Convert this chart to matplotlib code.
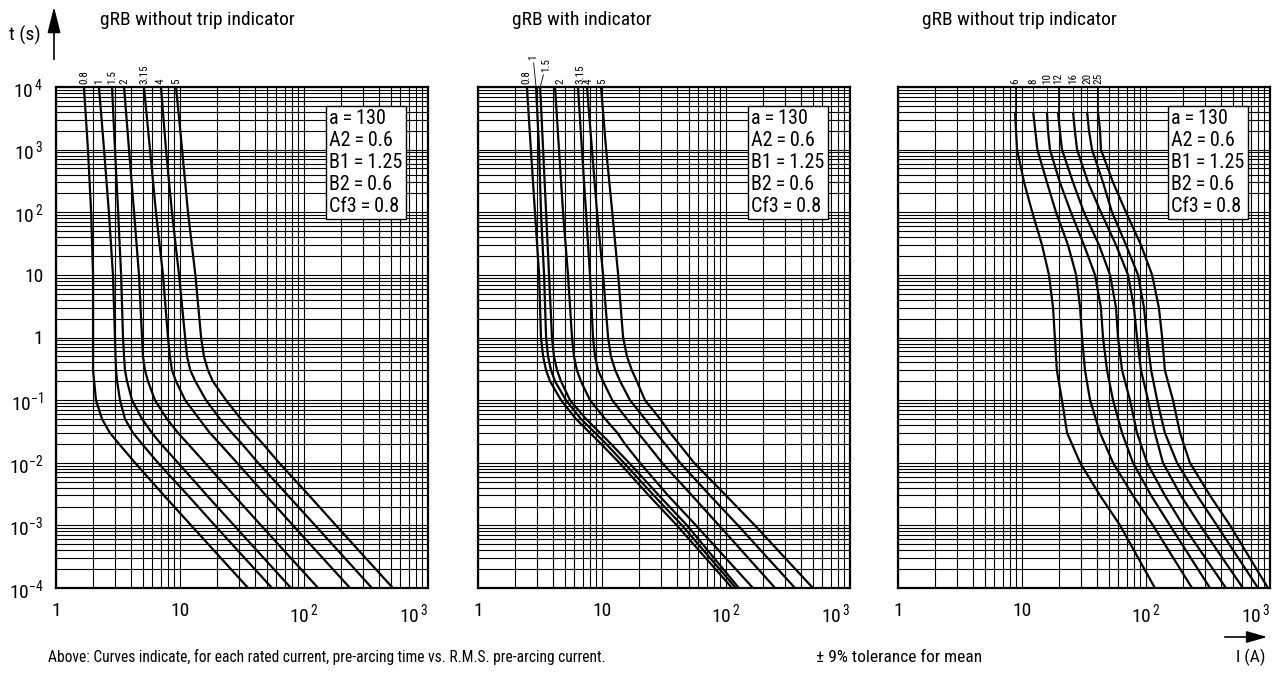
"""
gRB fuse time-current curves, three panels on log-log paper.
"""

import numpy as np
import matplotlib
matplotlib.use("Agg")
import matplotlib.pyplot as plt
from matplotlib import font_manager
from matplotlib.ticker import FixedLocator, LogLocator, NullFormatter


def pick_font():
    names = {f.name for f in font_manager.fontManager.ttflist}
    for n in ["Liberation Sans Narrow", "Roboto Condensed", "Roboto", "Liberation Sans"]:
        if n in names:
            return n
    return "DejaVu Sans"


FONT = pick_font()
plt.rcParams["font.family"] = [FONT, "DejaVu Sans"]
plt.rcParams["mathtext.fontset"] = "custom"
plt.rcParams["mathtext.rm"] = FONT

# ---- data ----
# pre-arcing time levels (s) at which currents were read
t_levels = [1e4, 1e3, 1e2, 10, 1, 0.5, 0.3, 0.2, 0.1, 0.05, 0.03, 0.02, 0.01, 3e-3, 1e-3, 1e-4]
t_levels_right = [4000, 2000, 1e3, 300, 1e2, 30, 10, 3, 1, 0.3, 0.1, 0.03, 0.01, 3e-3, 1e-3, 1e-4]

ratings_small = ["0.8", "1", "1.5", "2", "3.15", "4", "5"]
ratings_large = ["6", "8", "10", "12", "16", "20", "25"]

# currents (A) for each rating, panel 1: without trip indicator
currents_left = [
    [1.68, 1.81, 1.92, 1.99, 1.99, 1.99, 1.99, 2.03, 2.10, 2.35, 2.72, 3.22, 4.34, 7.43, 12.3, 35.4],
    [2.22, 2.44, 2.67, 2.88, 2.99, 3.02, 3.05, 3.11, 3.28, 3.60, 4.18, 4.94, 6.64, 11.6, 19.1, 55.2],
    [2.83, 2.99, 3.17, 3.35, 3.47, 3.54, 3.60, 3.74, 4.10, 4.94, 5.94, 7.02, 9.64, 16.5, 27.3, 78.5],
    [3.54, 3.88, 4.26, 4.67, 4.94, 5.03, 5.22, 5.52, 6.28, 7.85, 9.64, 11.6, 15.9, 27.3, 45.0, 130],
    [5.12, 5.73, 6.40, 7.29, 8.00, 8.30, 8.61, 9.29, 11.0, 14.3, 17.4, 21.0, 28.8, 49.4, 81.5, 235],
    [7.02, 7.71, 8.61, 9.82, 11.0, 11.4, 12.1, 13.3, 16.2, 21.0, 26.2, 31.6, 42.6, 74.3, 123, 353],
    [9.29, 10.4, 11.6, 13.3, 14.8, 15.6, 16.8, 18.4, 23.5, 31.0, 38.8, 46.7, 62.9, 110, 181, 521],
]

# panel 2: with indicator
currents_mid = [
    [2.48, 2.67, 2.88, 3.11, 3.22, 3.35, 3.54, 3.81, 4.67, 6.17, 8.00, 9.82, 13.8, 23.9, 40.2, 112],
    [2.94, 3.11, 3.22, 3.41, 3.54, 3.67, 3.88, 4.18, 5.12, 6.76, 8.79, 10.8, 15.0, 26.2, 44.2, 120],
    [3.17, 3.35, 3.54, 3.74, 3.95, 4.10, 4.34, 4.67, 5.52, 7.43, 9.64, 11.8, 16.5, 28.8, 48.5, 127],
    [4.18, 4.50, 4.85, 5.32, 5.73, 5.94, 6.28, 6.76, 8.00, 10.6, 13.3, 15.3, 20.2, 34.1, 57.3, 165],
    [6.40, 6.89, 7.43, 8.00, 8.46, 8.79, 9.29, 10.2, 12.1, 15.9, 19.5, 23.1, 30.5, 53.2, 87.8, 249],
    [7.57, 8.30, 9.12, 10.2, 11.2, 11.8, 12.8, 14.0, 16.8, 22.2, 27.3, 32.2, 42.6, 74.3, 125, 360],
    [9.82, 10.8, 12.1, 13.5, 14.8, 15.9, 17.4, 19.1, 22.2, 29.4, 35.4, 41.8, 55.2, 100, 171, 502],
]

# panel 3: without trip indicator, larger ratings
currents_right = [
    [8.79, 8.95, 9.12, 10.4, 12.1, 14.5, 16.5, 17.8, 18.4, 19.1, 21.0, 23.1, 29.4, 42.6, 61.8, 118],
    [12.3, 12.8, 13.3, 15.9, 18.8, 23.5, 27.3, 29.4, 30.5, 32.2, 35.4, 42.6, 54.2, 78.5, 114, 235],
    [15.9, 16.2, 16.8, 20.2, 24.8, 31.6, 38.8, 43.3, 45.0, 48.5, 54.2, 64.1, 78.5, 110, 156, 328],
    [19.5, 20.2, 21.0, 25.8, 31.6, 41.8, 51.3, 57.3, 59.5, 64.1, 74.3, 84.6, 102, 142, 199, 441],
    [25.8, 26.7, 27.8, 34.1, 43.3, 57.3, 71.6, 80.0, 84.6, 91.1, 104, 118, 137, 191, 273, 605],
    [33.5, 34.7, 36.7, 45.0, 53.2, 69.0, 86.2, 96.3, 102, 110, 123, 142, 178, 258, 373, 800],
    [41.0, 42.6, 43.3, 54.2, 69.0, 91.1, 112, 127, 135, 142, 165, 188, 226, 328, 476, 963],
]

titles = ["gRB without trip indicator", "gRB with indicator", "gRB without trip indicator"]
param_lines = ["a\u2009=\u2009130", "A2\u2009=\u20090.6", "B1\u2009=\u20091.25",
               "B2\u2009=\u20090.6", "Cf3\u2009=\u20090.8"]

x_ticks = [1, 10, 100, 1000]
x_ticklabels = ["1", "10", r"$\mathregular{10^{\,2}}$", r"$\mathregular{10^{\,3}}$"]
y_ticks = [1e-4, 1e-3, 1e-2, 1e-1, 1, 10, 100, 1e3, 1e4]
y_ticklabels = [r"$\mathregular{10^{-4}}$", r"$\mathregular{10^{-3}}$", r"$\mathregular{10^{-2}}$",
                r"$\mathregular{10^{-1}}$", "1", "10", r"$\mathregular{10^{\,2}}$",
                r"$\mathregular{10^{\,3}}$", r"$\mathregular{10^{\,4}}$"]

# ---- figure ----
W, H = 1272, 675
fig = plt.figure(figsize=(W / 100, H / 100), dpi=100)


def fx(px):
    return px / W


def fy(py):
    return 1 - py / H


ax_bottom = fy(588)
ax_height = 501 / H
ax_width = 372 / W
lefts = [56, 478, 898]

# label nudges for the rotated rating labels (pixels: dx, lift)
nudge_left = [(0, 3)] * 7
nudge_mid = [(-1, 3), (-3, 27), (6, 15), (5, 3), (2, 3), (2, 3), (1, 3)]
nudge_right = [(0, 3)] * 7

panels = [
    (currents_left, t_levels, ratings_small, nudge_left, False),
    (currents_mid, t_levels, ratings_small, nudge_mid, False),
    (currents_right, t_levels_right, ratings_large, nudge_right, True),
]

for k, (curves, tl, ratings, nudges, leaders) in enumerate(panels):
    ax = fig.add_axes([fx(lefts[k]), ax_bottom, ax_width, ax_height])
    ax.set_xscale("log")
    ax.set_yscale("log")
    ax.set_xlim(1, 1000)
    ax.set_ylim(1e-4, 1e4)

    ax.xaxis.set_major_locator(FixedLocator(x_ticks))
    ax.yaxis.set_major_locator(FixedLocator(y_ticks))
    ax.xaxis.set_minor_locator(LogLocator(base=10, subs=np.arange(2, 10), numticks=100))
    ax.yaxis.set_minor_locator(LogLocator(base=10, subs=np.arange(2, 10), numticks=100))
    ax.xaxis.set_minor_formatter(NullFormatter())
    ax.yaxis.set_minor_formatter(NullFormatter())
    ax.set_xticklabels(x_ticklabels)
    ax.get_xticklabels()[-1].set_ha("right")
    if k == 0:
        ax.set_yticklabels(y_ticklabels)
    else:
        ax.set_yticklabels([])
    ax.tick_params(which="both", length=0, labelsize=14)
    ax.tick_params(axis="x", pad=10)
    ax.tick_params(axis="y", pad=9)

    ax.grid(which="both", color="black", lw=0.8)
    ax.set_axisbelow(True)
    for s in ax.spines.values():
        s.set_linewidth(1.6)

    for cur, rating, (dx, lift) in zip(curves, ratings, nudges):
        ax.plot(cur, tl, color="black", lw=1.6, solid_joinstyle="round", solid_capstyle="butt")
        if leaders:
            ax.plot([cur[0], cur[0]], [tl[0], 1e4], color="black", lw=0.6, clip_on=False)
        arrow = dict(arrowstyle="-", lw=0.6, color="black", shrinkA=0, shrinkB=0) if lift > 8 else None
        ax.annotate(rating, xy=(cur[0], 1e4), xytext=(dx * 0.72, lift * 0.72),
                    textcoords="offset points", rotation=90, ha="center", va="bottom",
                    fontsize=8, color="black", arrowprops=arrow, annotation_clip=False)

    ax.text(0.735, 0.956, "\n".join(param_lines), transform=ax.transAxes,
            ha="left", va="top", fontsize=14.5, linespacing=1.2, zorder=6,
            bbox=dict(boxstyle="square,pad=0.15", fc="white", ec="black", lw=1.0))

# titles and side texts
title_x = [100, 512, 922]
for tx, title in zip(title_x, titles):
    fig.text(fx(tx), fy(20), title, ha="left", va="center", fontsize=14)

fig.text(fx(9), fy(35), "t (s)", ha="left", va="center", fontsize=14)
fig.add_artist(matplotlib.patches.FancyArrowPatch(
    (fx(54), fy(62)), (fx(54), fy(4)), transform=fig.transFigure,
    arrowstyle="-|>,head_length=0.8,head_width=0.2", mutation_scale=20,
    color="black", lw=1.2))

fig.text(fx(48), fy(657), "Above: Curves indicate, for each rated current, pre-arcing time vs. "
         "R.M.S. pre-arcing current.", ha="left", va="center", fontsize=11.2)
fig.text(fx(816), fy(657), "\u00b1 9% tolerance for mean", ha="left", va="center", fontsize=12.5)
fig.text(fx(1236), fy(657), "I (A)", ha="left", va="center", fontsize=12.5)
fig.add_artist(matplotlib.patches.FancyArrowPatch(
    (fx(1222), fy(637)), (fx(1270), fy(637)), transform=fig.transFigure,
    arrowstyle="-|>,head_length=0.7,head_width=0.2", mutation_scale=18,
    color="black", lw=1.2))

fig.savefig("out.png", dpi=100, facecolor="white")
